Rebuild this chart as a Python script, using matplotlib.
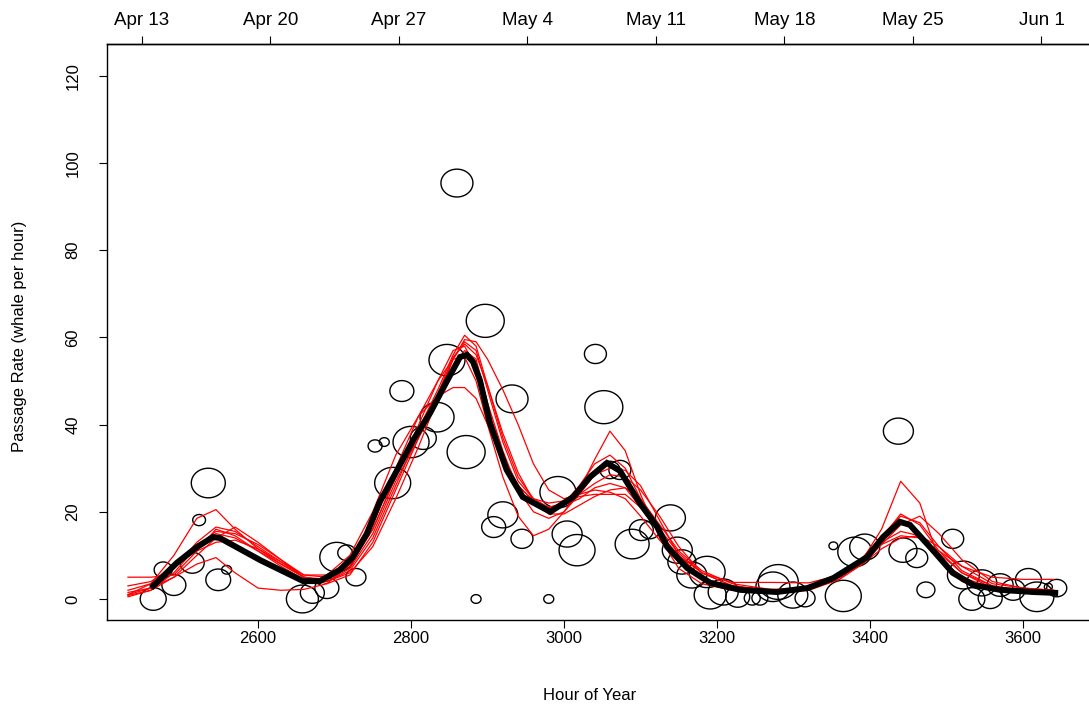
import numpy as np
import pandas as pd
from matplotlib import pyplot as plt
from matplotlib.path import Path

plt.rcParams["font.family"] = ["Liberation Sans", "DejaVu Sans"]

# observed passage rates: hour of year, whales per hour, watch effort (hours)
obs_hour = [2463, 2490, 2476, 2514, 2535, 2523, 2548, 2559, 2658, 2671,
            2690, 2703, 2716, 2728, 2753, 2765, 2776, 2788, 2800, 2816,
            2834, 2847, 2872, 2860, 2897, 2885, 2908, 2920, 2932, 2945,
            2980, 2992, 3004, 3017, 3041, 3052, 3060, 3073, 3089, 3101,
            3112, 3139, 3148, 3154, 3167, 3187, 3191, 3208, 3227, 3246,
            3256, 3273, 3280, 3299, 3315, 3352, 3365, 3380, 3393, 3437,
            3443, 3461, 3473, 3508, 3522, 3533, 3546, 3557, 3570, 3587,
            3607, 3618, 3633, 3644]
obs_rate = [0.0, 3.2, 6.7, 8.3, 26.6, 18.1, 4.4, 6.7, 0.0, 1.4,
            2.5, 9.6, 10.6, 5.0, 35.1, 36.0, 26.6, 47.7, 36.0, 36.9,
            41.7, 54.8, 33.7, 95.4, 63.8, 0.0, 16.5, 19.3, 45.9, 13.8,
            0.0, 24.5, 14.9, 11.2, 56.2, 44.0, 29.6, 29.6, 12.6, 15.8,
            15.8, 18.6, 11.2, 8.5, 5.5, 6.2, 0.9, 1.6, 0.5, 0.2,
            0.2, 2.8, 3.9, 0.9, 0.2, 12.2, 0.7, 10.8, 11.9, 38.5,
            11.2, 9.4, 2.1, 13.8, 5.5, 0.0, 3.7, 0.2, 3.2, 2.1,
            4.4, 0.5, 2.8, 2.5]
obs_effort = [6.5, 6.0, 4.5, 6.0, 8.5, 3.2, 6.2, 2.5, 8.0, 6.0,
              6.0, 8.5, 4.5, 5.0, 3.5, 2.5, 9.0, 6.0, 9.0, 6.5,
              8.5, 9.0, 9.5, 8.0, 9.5, 2.5, 6.0, 7.5, 8.0, 5.5,
              2.5, 9.0, 7.5, 9.0, 5.5, 9.5, 5.0, 5.5, 8.5, 6.0,
              5.0, 7.5, 7.5, 7.0, 7.5, 9.0, 8.0, 7.5, 6.0, 4.0,
              4.0, 8.5, 10.0, 7.5, 5.0, 2.2, 9.0, 8.5, 7.5, 7.5,
              7.0, 5.5, 4.5, 5.5, 8.0, 6.5, 7.5, 6.0, 6.5, 6.0,
              6.5, 8.5, 2.0, 5.0]

# bootstrap fits (red) on a common hour grid
fit_hour = [2430, 2460, 2490, 2520, 2545, 2570, 2600, 2630, 2660, 2690,
            2720, 2750, 2780, 2810, 2835, 2855, 2870, 2885, 2900, 2920,
            2940, 2960, 2980, 3000, 3020, 3040, 3060, 3080, 3100, 3125,
            3150, 3180, 3220, 3270, 3320, 3360, 3390, 3415, 3440, 3465,
            3490, 3520, 3560, 3600, 3640]
boot_1 = [1, 3.5, 10, 18.5, 20.5, 16, 11.5, 8, 5, 4.5,
          7.5, 16, 28, 40, 50, 57, 58, 53, 44, 33,
          26, 22.5, 21, 22, 26, 31, 33, 30, 23, 15,
          8.5, 4.5, 2.2, 1.5, 2.2, 5, 9, 14, 18, 15,
          9.5, 5, 2.5, 1.5, 1]
boot_2 = [5, 5, 5.5, 11, 16, 14.5, 11, 7.5, 4.5, 4,
          6.5, 14, 26, 38, 47, 55, 59, 57, 48, 36,
          27, 23, 22, 22.5, 24, 25, 24.5, 23, 19, 13.5,
          8.5, 4.5, 2.5, 1.8, 2.5, 5.5, 9, 13, 15.5, 14.5,
          10.5, 6, 3, 2, 1.5]
boot_3 = [1.5, 2.5, 5, 8, 9.5, 6, 2.5, 2, 2.2, 3.5,
          8, 17, 30, 42, 50, 55, 55.5, 50, 40, 28,
          19, 14.5, 16, 20, 25, 32, 38.5, 34, 24, 14,
          7, 3.5, 2, 1.5, 2, 4.5, 9, 16, 27, 22,
          9, 4, 2.2, 1.5, 1]
boot_4 = [0.5, 2, 6, 12, 15.5, 15, 12.5, 9, 5.5, 5.5,
          10, 20, 33, 42, 46.5, 48.5, 48.5, 46, 40, 32,
          26, 22.5, 21, 22, 23.5, 24, 24, 24, 21, 16,
          10.5, 6, 3.8, 3.8, 3.7, 5.5, 9, 12.5, 14.5, 14,
          11, 7.5, 5, 4.5, 4.5]
boot_5 = [2, 3.5, 7, 12, 15, 14, 11, 8, 5, 4,
          6, 12, 23, 35, 46, 55, 59.5, 59, 55, 48,
          40, 31, 25, 23, 24, 26.5, 28.5, 28, 25, 19,
          12, 6, 3, 2, 2.2, 4.5, 8, 12.5, 17, 19,
          15, 9, 4, 2.5, 2]
boot_6 = [1, 2.5, 7, 13, 16.5, 15.5, 12, 8.5, 5, 4,
          7, 15, 27, 37, 45, 53, 57, 55, 45, 34,
          25, 20, 18.5, 20, 24, 28.5, 30, 29.5, 26, 18,
          10, 5, 2.5, 1.5, 2.5, 5.5, 9.5, 14, 19.5, 17,
          11, 6, 2.5, 1.5, 1]
boot_7 = [3, 4, 7.5, 11, 13, 13.5, 11.5, 8.5, 5.5, 5,
          8, 16, 28, 39, 48, 56, 60.5, 58, 49, 37,
          28, 23, 21, 21.5, 23, 25.5, 26.5, 25.5, 21, 15,
          10, 6, 3, 2, 2.5, 5, 8, 11.5, 14, 14.5,
          12, 7.5, 3.5, 2.5, 2]
boot_8 = [0.8, 2, 5, 10, 14, 16.5, 13, 9, 5, 3.5,
          5.5, 13, 25, 37, 47, 55.5, 58.5, 56, 49, 38,
          29, 22.5, 19.5, 19.5, 21.5, 23.5, 25, 25.5, 23, 17,
          11, 6.5, 3.5, 2.2, 2.5, 5, 9, 14.5, 19, 17.5,
          12, 6.5, 3, 1.8, 1.2]
boot_fits = [boot_1, boot_2, boot_3, boot_4, boot_5, boot_6, boot_7, boot_8]

# mean fit (black)
mean_hour = [2463, 2494, 2520, 2541, 2550, 2603, 2659, 2681, 2707, 2724,
             2742, 2759, 2782, 2803, 2825, 2847, 2864, 2873, 2881, 2890,
             2903, 2925, 2946, 2982, 3012, 3034, 3056, 3073, 3099, 3122,
             3135, 3161, 3191, 3230, 3278, 3318, 3352, 3396, 3417, 3439,
             3452, 3482, 3508, 3535, 3570, 3613, 3642]
mean_rate = [3.0, 8.3, 11.9, 14.2, 14.0, 8.9, 4.1, 4.1, 6.7, 9.6,
             14.9, 22.2, 29.6, 36.5, 42.7, 50.0, 55.5, 56.0, 54.4, 50.2,
             40.4, 29.6, 23.4, 20.0, 23.4, 28.0, 31.2, 29.4, 22.0, 16.5,
             11.9, 7.1, 3.7, 2.1, 1.6, 2.5, 4.8, 9.6, 14.2, 17.7,
             17.0, 11.2, 6.0, 3.2, 2.1, 1.6, 1.4]

date_labels = ["Apr 13", "Apr 20", "Apr 27", "May 4",
               "May 11", "May 18", "May 25", "Jun 1"]
date_hours = [(pd.Timestamp(f"2019 {d}").dayofyear - 1) * 24 for d in date_labels]


def ellipse_marker(aspect=0.87):
    t = np.linspace(0, 2 * np.pi, 72)
    return Path(np.column_stack([np.cos(t), aspect * np.sin(t)]), closed=True)


fig = plt.figure(figsize=(10.89, 7.04), dpi=100)
ax = fig.add_axes([107 / 1089, 84 / 704, 988 / 1089, 576 / 704])

# circle radius in px is twice the effort, marker size in points
radius_px = 2 * np.array(obs_effort)
sizes = (2 * radius_px * 0.72) ** 2
ax.scatter(obs_hour, obs_rate, s=sizes, marker=ellipse_marker(),
           facecolors="none", edgecolors="black", linewidths=1.0, zorder=2)

for fit in boot_fits:
    ax.plot(fit_hour, fit, color="red", lw=0.9, zorder=3)
ax.plot(mean_hour, mean_rate, color="black", lw=4.3, zorder=4,
        solid_joinstyle="miter")

ax.set_xlim(2402.6, 3694)
ax.set_ylim(-4.82, 127.3)
ax.set_xticks([2600, 2800, 3000, 3200, 3400, 3600])
ax.set_yticks([0, 20, 40, 60, 80, 100, 120])
for s in ax.spines.values():
    s.set_linewidth(1.0)
ax.tick_params(direction="out", length=6, width=0.8, labelsize=12)
ax.tick_params(axis="x", pad=2)
ax.tick_params(axis="y", pad=13)
for lab in ax.get_yticklabels():
    lab.set_rotation(90)
    lab.set_va("center")

top = ax.secondary_xaxis("top")
top.set_xticks(date_hours, date_labels)
top.tick_params(direction="out", length=6, width=0.8, labelsize=13.5, pad=5)
top.spines["top"].set_linewidth(1.0)

fig.text(590 / 1089, 1 - 695 / 704, "Hour of Year", ha="center", va="center",
         fontsize=12)
fig.text(20 / 1089, 1 - 336 / 704, "Passage Rate (whale per hour)",
         ha="center", va="center", rotation=90, fontsize=12)

fig.savefig("out.png", dpi=100)
